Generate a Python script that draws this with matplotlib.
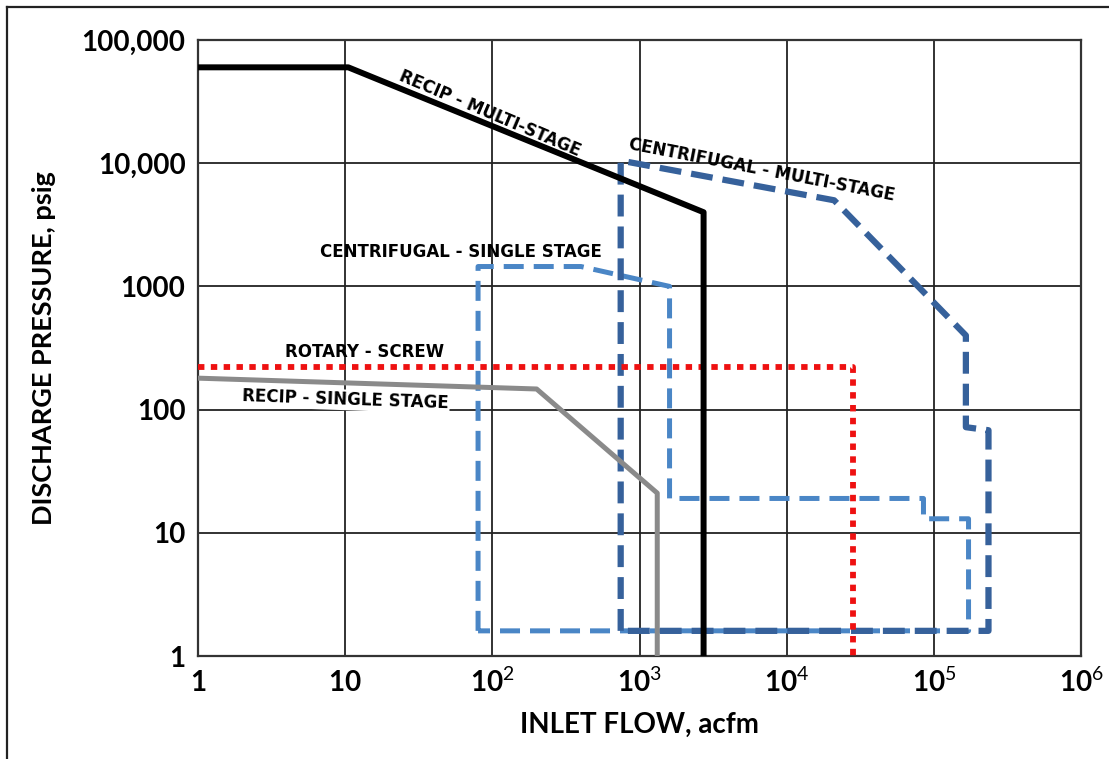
import matplotlib
matplotlib.use("Agg")
import matplotlib.pyplot as plt
from matplotlib.lines import Line2D

plt.rcParams['mathtext.fontset'] = 'custom'
plt.rcParams['mathtext.rm'] = 'Lato'
plt.rcParams['mathtext.bf'] = 'Lato:bold'

# Datos (acfm, psig)
recip_multi_x = [1, 10.5, 2725, 2725]
recip_multi_y = [60000, 60000, 4000, 1]

recip_single_x = [1, 200, 1320, 1320]
recip_single_y = [180, 147, 21, 1]

rotary_x = [1, 28000, 28000]
rotary_y = [220, 220, 1]

cent_single_x = [80, 80, 400, 1600, 1600, 85000, 85000, 172000, 172000, 80]
cent_single_y = [1.6, 1450, 1450, 1000, 19, 19, 13, 13, 1.6, 1.6]

cent_multi_x = [745, 745, 21000, 165000, 165000, 235000, 235000, 745]
cent_multi_y = [1.6, 10500, 5000, 400, 72, 68, 1.6, 1.6]

x_ticks = [1, 10, 1e2, 1e3, 1e4, 1e5, 1e6]
x_tick_labels = [r'$\mathbf{1}$', r'$\mathbf{10}$', r'$\mathbf{10}^{\mathrm{2}}$',
                 r'$\mathbf{10}^{\mathrm{3}}$', r'$\mathbf{10}^{\mathrm{4}}$',
                 r'$\mathbf{10}^{\mathrm{5}}$', r'$\mathbf{10}^{\mathrm{6}}$']
y_ticks = [1, 10, 100, 1000, 10000, 100000]
y_tick_labels = ['1', '10', '100', '1000', '10,000', '100,000']

fig = plt.figure(figsize=(11.09, 7.59), dpi=100)
ax = fig.add_axes([0.1785, 0.1357, 0.7963, 0.8116])

ax.set_xscale('log')
ax.set_yscale('log')
ax.set_xlim(1, 1e6)
ax.set_ylim(1, 1e5)

ax.grid(True, which='major', color='#222222', linewidth=1.3)
ax.minorticks_off()
ax.tick_params(length=0, pad=9)
for s in ax.spines.values():
    s.set_color('#333333')
    s.set_linewidth(1.6)

ax.plot(cent_single_x, cent_single_y, color='#4a86c6', lw=3.6,
        dashes=(4, 2), solid_capstyle='butt', zorder=3)
ax.plot(cent_multi_x, cent_multi_y, color='#36619b', lw=4.5,
        dashes=(3.5, 1.6), solid_capstyle='butt', zorder=4)
ax.plot(rotary_x, rotary_y, color='#ee1111', lw=4.2,
        dashes=(1.1, 1.1), dash_capstyle='butt', zorder=5)
ax.plot(recip_single_x, recip_single_y, color='#8a8a8a', lw=3.6, zorder=6)
ax.plot(recip_multi_x, recip_multi_y, color='black', lw=4.3, zorder=7)

lbl = dict(family='DejaVu Sans', fontweight='bold', fontsize=12,
           ha='center', va='center', zorder=8)
ax.text(97, 25500, 'RECIP - MULTI-STAGE', rotation=-23, **lbl)
ax.text(6800, 8800, 'CENTRIFUGAL - MULTI-STAGE', rotation=-11, **lbl)
ax.text(61.5, 1900, 'CENTRIFUGAL - SINGLE STAGE', **lbl)
ax.text(13.5, 294, 'ROTARY - SCREW', **lbl)
ax.text(10, 120, 'RECIP - SINGLE STAGE', rotation=-2,
        bbox=dict(facecolor='white', edgecolor='none', pad=1), **lbl)

ax.set_xticks(x_ticks)
ax.set_xticklabels(x_tick_labels, fontsize=20)
ax.set_yticks(y_ticks)
ax.set_yticklabels(y_tick_labels, family='Lato', fontweight='bold', fontsize=20)

ax.set_xlabel('INLET FLOW, acfm', family='Lato', fontweight='bold', fontsize=20, labelpad=10)
ax.set_ylabel('DISCHARGE PRESSURE, psig', family='Lato', fontweight='bold', fontsize=19.5, labelpad=18)

# marco exterior (solo arriba e izquierda visibles)
fig.add_artist(Line2D([7 / 1109, 1], [1 - 7 / 759, 1 - 7 / 759], color='#222222', lw=1.6))
fig.add_artist(Line2D([7 / 1109, 7 / 1109], [0, 1 - 7 / 759], color='#222222', lw=1.6))

fig.savefig('out.png', dpi=100)
